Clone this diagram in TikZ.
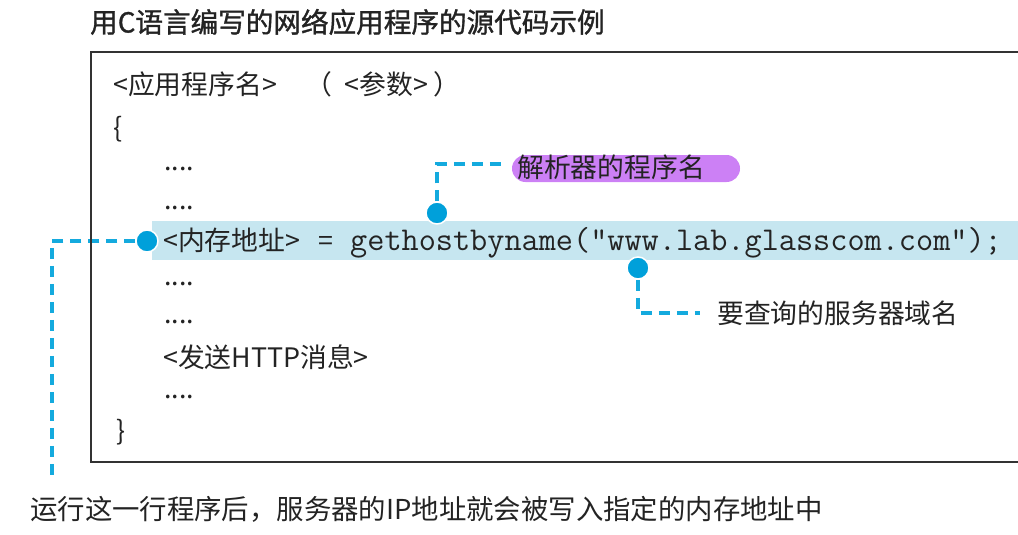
\documentclass[tikz,border=0pt]{standalone}
\usepackage{fontspec}
\setmainfont{Noto Sans CJK SC}
\newfontfamily\titlefont{Noto Sans CJK SC}[FakeBold=1.2]
\usetikzlibrary{backgrounds}
\definecolor{txtcol}{RGB}{35,35,35}
\definecolor{boxcol}{RGB}{50,50,50}
\definecolor{cyanc}{RGB}{0,160,218}
\definecolor{cyanl}{RGB}{20,170,222}
\definecolor{bandcol}{RGB}{198,230,240}
\definecolor{pillcol}{RGB}{204,128,245}
\tikzset{
  txt/.style={anchor=base west, inner sep=0pt, text=txtcol, font=\fontsize{26.8}{30}\selectfont},
  bigtxt/.style={txt, font=\fontsize{27.4}{30}\selectfont},
  titletxt/.style={txt, font=\fontsize{27.6}{30}\selectfont\titlefont},
  codett/.style={txt, font=\fontsize{33.3}{36}\selectfont\ttfamily},
  dotmark/.style={circle, fill=cyanc, draw=white, line width=1.5pt, minimum size=22pt, inner sep=0pt},
  lead/.style={draw=cyanl, line width=3.5pt, dash pattern=on 11pt off 7pt},
  pillbox/.style={fill=pillcol, rounded corners=13.5pt, minimum width=228pt, minimum height=27pt, inner sep=0pt},
  bandbox/.style={fill=bandcol, inner sep=0pt, anchor=north west, minimum width=866pt, minimum height=39pt}
}
\begin{document}
\begin{tikzpicture}[x=1pt,y=-1pt]
\useasboundingbox (0,0) rectangle (1018,535);
% title
\node[titletxt] (title) at (90,32.5) {用C语言编写的网络应用程序的源代码示例};
% code frame
\draw[boxcol, line width=2pt] (1018,52) -- (91,52) -- (91,462) -- (1018,462);
% highlighted line
\node[bandbox] (band) at (152,221) {};
% code lines
\node[txt] (l1) at (113,95) {<应用程序名>\hspace{29pt}（\hspace{12pt}<参数>\hspace{5pt}）};
\node[txt] (l2) at (113,137) {\{};
\node[txt] (l3) at (164,170) {....};
\node[txt] (l4) at (164,209) {....};
\node[txt] (l5a) at (163,250) {<内存地址>\hspace{18pt}=};
\node[codett] (l5b) at (350,250) {gethostbyname("www.lab.glasscom.com");};
\node[txt] (l6) at (164,285) {....};
\node[txt] (l7) at (164,323) {....};
\node[txt] (l8) at (163,367) {<发送HTTP消息>};
\node[txt] (l9) at (164,398) {....};
\node[txt] (l10) at (116,440) {\}};
% callout labels
\node[pillbox] (pill) at (626,168.5) {};
\node[txt] (lab1) at (517,177.5) {解析器的程序名};
\node[txt] (lab2) at (717,323) {要查询的服务器域名};
\node[bigtxt] (lab3) at (30,519) {运行这一行程序后，服务器的IP地址就会被写入指定的内存地址中};
% connector ends
\coordinate (c1) at (52,478);
\coordinate (c2) at (505,164);
\coordinate (c3) at (700,313);
% markers
\node[dotmark] (d1) at (147,241) {};
\node[dotmark] (d2) at (437,213) {};
\node[dotmark] (d3) at (638,268) {};
% leaders
\begin{pgfonlayer}{background}
\draw[lead] (d1.west) -| (c1);
\draw[lead] (d2.north) |- (c2);
\draw[lead] (d3.south) |- (c3);
\end{pgfonlayer}
\end{tikzpicture}
\end{document}
